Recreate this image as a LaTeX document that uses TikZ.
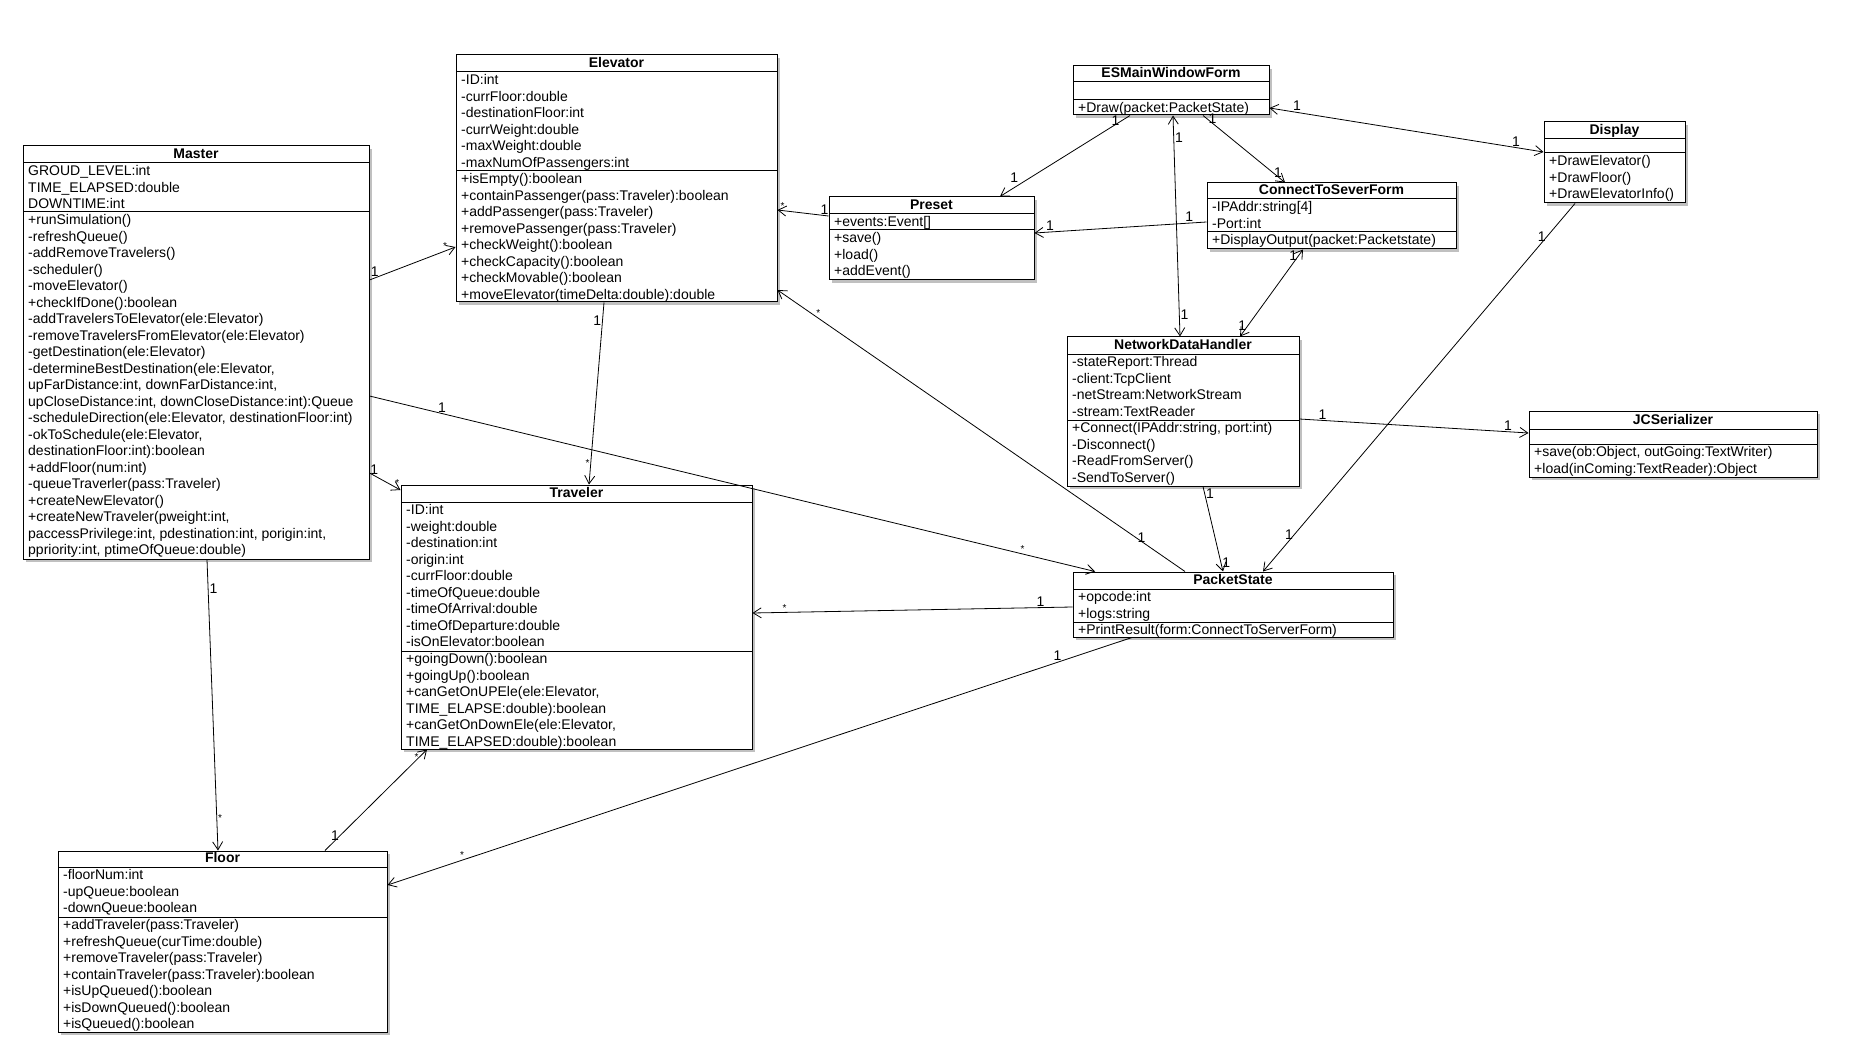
\documentclass[tikz,border=0pt]{standalone}
\usepackage{fontspec}
\setmainfont{Liberation Sans}
\usetikzlibrary{fit,shadows,arrows.meta}

\tikzset{
  classbox/.style={draw, line width=1pt, fill=white, inner sep=0pt,
    drop shadow={shadow xshift=3pt, shadow yshift=-3pt, opacity=0.35, fill=black!70}},
  sepline/.style={line width=1pt},
  classtitle/.style={font=\fontsize{14}{16}\selectfont\bfseries, inner sep=0pt, anchor=base},
  members/.style={anchor=north west, inner sep=0pt, align=left, font=\fontsize{14}{16.5}\selectfont},
  assoc/.style={line width=0.8pt, -{Straight Barb[length=8pt,width=10pt]}},
  biassoc/.style={line width=0.8pt, {Straight Barb[length=8pt,width=10pt]}-{Straight Barb[length=8pt,width=10pt]}},
  mult/.style={font=\fontsize{14}{14}\selectfont, inner sep=1pt},
  many/.style={font=\fontsize{10}{10}\selectfont, inner sep=1pt},
}

% name, x1, y1, x2, y2, header separator, attribute separator, title
\newcommand\umlclass[8]{%
  \node[classbox, fit={(#2,#3) (#4,#5)}] (#1) {};
  \draw[sepline] (#2,#6) -- (#4,#6);
  \draw[sepline] (#2,#7) -- (#4,#7);
  \node[classtitle] at ({(#2+#4)/2},{#6-4.5}) {#8};
}

\begin{document}
\begin{tikzpicture}[x=1pt, y=-1pt]
\useasboundingbox (0,0) rectangle (1853,1059);
\fill[white] (0,0) rectangle (1853,1059);

% ---------------- Master
\umlclass{master}{23}{146}{369}{559}{163}{212}{Master}
\node[members] (masterA) at (28,164) {\strut GROUD\_LEVEL:int\\TIME\_ELAPSED:double\\DOWNTIME:int};
\node[members] (masterM) at (28,213) {\strut +runSimulation()\\-refreshQueue()\\-addRemoveTravelers()\\-scheduler()\\-moveElevator()\\+checkIfDone():boolean\\-addTravelersToElevator(ele:Elevator)\\-removeTravelersFromElevator(ele:Elevator)\\-getDestination(ele:Elevator)\\-determineBestDestination(ele:Elevator,\\upFarDistance:int, downFarDistance:int,\\upCloseDistance:int, downCloseDistance:int):Queue\\-scheduleDirection(ele:Elevator, destinationFloor:int)\\-okToSchedule(ele:Elevator,\\destinationFloor:int):boolean\\+addFloor(num:int)\\-queueTraverler(pass:Traveler)\\+createNewElevator()\\+createNewTraveler(pweight:int,\\paccessPrivilege:int, pdestination:int, porigin:int,\\ppriority:int, ptimeOfQueue:double)};

% ---------------- Elevator
\umlclass{elevator}{456}{55}{777}{302}{72}{171}{Elevator}
\node[members] (elevatorA) at (461,73) {\strut -ID:int\\-currFloor:double\\-destinationFloor:int\\-currWeight:double\\-maxWeight:double\\-maxNumOfPassengers:int};
\node[members] (elevatorM) at (461,172) {\strut +isEmpty():boolean\\+containPassenger(pass:Traveler):boolean\\+addPassenger(pass:Traveler)\\+removePassenger(pass:Traveler)\\+checkWeight():boolean\\+checkCapacity():boolean\\+checkMovable():boolean\\+moveElevator(timeDelta:double):double};

% ---------------- ESMainWindowForm
\umlclass{esmain}{1073}{66}{1269}{115}{82}{100}{ESMainWindowForm}
\node[members] (esmainM) at (1078,101) {\strut +Draw(packet:PacketState)};

% ---------------- Preset
\umlclass{preset}{829}{197}{1034}{280}{214}{230}{Preset}
\node[members] (presetA) at (834,215) {\strut +events:Event[]};
\node[members] (presetM) at (834,231) {\strut +save()\\+load()\\+addEvent()};

% ---------------- ConnectToSeverForm
\umlclass{ctsf}{1207}{183}{1456}{249}{199}{232}{ConnectToSeverForm}
\node[members] (ctsfA) at (1212,200) {\strut -IPAddr:string[4]\\-Port:int};
\node[members] (ctsfM) at (1212,233) {\strut +DisplayOutput(packet:Packetstate)};

% ---------------- Display
\umlclass{display}{1544}{122}{1685}{203}{139}{153}{Display}
\node[members] (displayM) at (1549,154) {\strut +DrawElevator()\\+DrawFloor()\\+DrawElevatorInfo()};

% ---------------- NetworkDataHandler
\umlclass{ndh}{1067}{337}{1299}{486}{354}{420}{NetworkDataHandler}
\node[members] (ndhA) at (1072,355) {\strut -stateReport:Thread\\-client:TcpClient\\-netStream:NetworkStream\\-stream:TextReader};
\node[members] (ndhM) at (1072,421) {\strut +Connect(IPAddr:string, port:int)\\-Disconnect()\\-ReadFromServer()\\-SendToServer()};

% ---------------- JCSerializer
\umlclass{jcs}{1529}{411}{1817}{477}{429}{444}{JCSerializer}
\node[members] (jcsM) at (1534,445) {\strut +save(ob:Object, outGoing:TextWriter)\\+load(inComing:TextReader):Object};

% ---------------- Traveler
\umlclass{traveler}{401}{485}{752}{749}{502}{651}{Traveler}
\node[members] (travelerA) at (406,503) {\strut -ID:int\\-weight:double\\-destination:int\\-origin:int\\-currFloor:double\\-timeOfQueue:double\\-timeOfArrival:double\\-timeOfDeparture:double\\-isOnElevator:boolean};
\node[members] (travelerM) at (406,652) {\strut +goingDown():boolean\\+goingUp():boolean\\+canGetOnUPEle(ele:Elevator,\\TIME\_ELAPSE:double):boolean\\+canGetOnDownEle(ele:Elevator,\\TIME\_ELAPSED:double):boolean};

% ---------------- PacketState
\umlclass{packet}{1073}{572}{1393}{637}{589}{622}{PacketState}
\node[members] (packetA) at (1078,590) {\strut +opcode:int\\+logs:string};
\node[members] (packetM) at (1078,623) {\strut +PrintResult(form:ConnectToServerForm)};

% ---------------- Floor
\umlclass{floor}{58}{851}{387}{1032}{867}{917}{Floor}
\node[members] (floorA) at (63,868) {\strut -floorNum:int\\-upQueue:boolean\\-downQueue:boolean};
\node[members] (floorM) at (63,918) {\strut +addTraveler(pass:Traveler)\\+refreshQueue(curTime:double)\\+removeTraveler(pass:Traveler)\\+containTraveler(pass:Traveler):boolean\\+isUpQueued():boolean\\+isDownQueued():boolean\\+isQueued():boolean};

% ---------------- Connectors
\draw[assoc] (master.east |- 0,280) -- node[mult,pos=0.06,anchor=south]{1} node[many,pos=0.88,anchor=south]{*} (elevator.west |- 0,247);
\draw[assoc] (master.east |- 0,473) -- node[mult,pos=0.15,anchor=south]{1} node[many,pos=0.9,anchor=south]{*} (traveler.west |- 0,490);
\draw[assoc] (master.east |- 0,396) -- node[mult,pos=0.1,anchor=south]{1} node[many,pos=0.9,anchor=south]{*} (packet.north -| 1095,0);
\draw[assoc] (master.south -| 207,0) -- node[mult,pos=0.1,anchor=west]{1} node[many,pos=0.89,anchor=west]{*} (floor.north -| 218,0);
\draw[assoc] (elevator.south -| 604,0) -- node[mult,pos=0.1,anchor=east]{1} node[many,pos=0.88,anchor=east]{*} (traveler.north -| 589,0);
\draw[assoc] (packet.north -| 1185,0) -- node[mult,pos=0.12,anchor=west]{1} node[many,pos=0.9,anchor=south]{*} (elevator.east |- 0,290);
\draw[assoc] (preset.west |- 0,216) -- node[mult,pos=0.08,anchor=south]{1} node[many,pos=0.9,anchor=south]{*} (elevator.east |- 0,210);
\draw[assoc] (esmain.south -| 1130,0) -- node[mult,pos=0.07,anchor=east]{1} node[mult,pos=0.85,anchor=south east]{1} (preset.north -| 1000,0);
\draw[assoc] (esmain.south -| 1203,0) -- node[mult,pos=0.05,anchor=west]{1} node[mult,pos=0.85,anchor=west]{1} (ctsf.north -| 1285,0);
\draw[assoc] (ctsf.west |- 0,222) -- node[mult,pos=0.1,anchor=south]{1} node[mult,pos=0.91,anchor=south]{1} (preset.east |- 0,233);
\draw[biassoc] (esmain.south -| 1173,0) -- node[mult,pos=0.1,anchor=west]{1} node[mult,pos=0.9,anchor=west]{1} (ndh.north -| 1180,0);
\draw[biassoc] (ctsf.south -| 1303,0) -- node[mult,pos=0.07,anchor=east]{1} node[mult,pos=0.88,anchor=east]{1} (ndh.north -| 1240,0);
\draw[biassoc] (esmain.east |- 0,108) -- node[mult,pos=0.1,anchor=south]{1} node[mult,pos=0.9,anchor=south]{1} (display.west |- 0,152);
\draw[assoc] (display.south -| 1575,0) -- node[mult,pos=0.09,anchor=east]{1} node[mult,pos=0.9,anchor=east]{1} (packet.north -| 1263,0);
\draw[assoc] (ndh.east |- 0,419) -- node[mult,pos=0.1,anchor=south]{1} node[mult,pos=0.91,anchor=south]{1} (jcs.west |- 0,433);
\draw[assoc] (ndh.south -| 1203,0) -- node[mult,pos=0.08,anchor=west]{1} node[mult,pos=0.9,anchor=west]{1} (packet.north -| 1223,0);
\draw[assoc] (packet.west |- 0,607) -- node[mult,pos=0.1,anchor=south]{1} node[many,pos=0.9,anchor=south]{*} (traveler.east |- 0,613);
\draw[assoc] (packet.south -| 1132,0) -- node[mult,pos=0.1,anchor=south]{1} node[many,pos=0.9,anchor=south]{*} (floor.east |- 0,885);
\draw[assoc] (floor.north -| 325,0) -- node[mult,pos=0.15,anchor=east]{1} node[many,pos=0.93,anchor=east]{*} (traveler.south -| 427,0);
\end{tikzpicture}
\end{document}
